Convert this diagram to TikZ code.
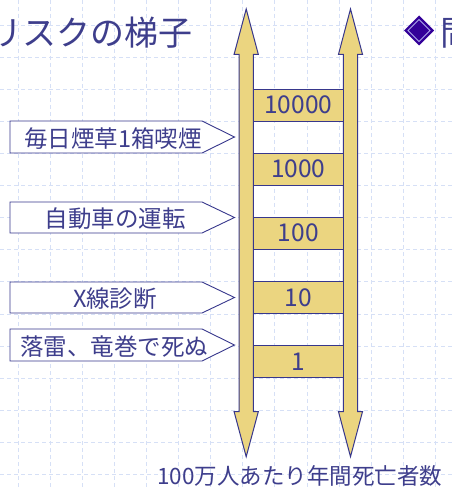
\documentclass[tikz,border=0pt]{standalone}
\usepackage{fontspec}
\setmainfont{Noto Sans CJK JP}
\definecolor{ink}{RGB}{62,62,140}
\definecolor{edge}{RGB}{55,55,140}
\definecolor{lfill}{RGB}{235,213,128}
\definecolor{gridc}{RGB}{214,224,246}
\definecolor{dia}{RGB}{51,0,153}
\definecolor{dialine}{RGB}{175,170,235}
\begin{document}
\begin{tikzpicture}[x=1pt,y=-1pt,
  gridline/.style={gridc, line width=0.8pt, dash pattern=on 4pt off 3pt},
  ladderpart/.style={fill=lfill, draw=edge, line width=1pt, line join=miter},
  rung/.style={ladderpart, minimum width=90pt, minimum height=32pt, inner sep=0pt, text=ink, font=\fontsize{24.5}{28}\selectfont},
  tagshape/.style={draw=edge, fill=white, line width=0.9pt},
  tagtext/.style={text=ink, inner sep=0pt, font=\fontsize{23.5}{27}\selectfont},
  bigtext/.style={text=ink, inner sep=0pt, font=\fontsize{34}{38}\selectfont}]
\useasboundingbox (0,0) rectangle (452,487);
\fill[white] (0,0) rectangle (452,487);
% background grid
\foreach \i in {0,...,13} \draw[gridline] ({18+32.1*\i},0) -- ({18+32.1*\i},487);
\foreach \i in {0,...,14} \draw[gridline] (0,{25+32.1*\i}) -- (452,{25+32.1*\i});
% title
\node[bigtext, anchor=base west] (title) at (-12,46) {リスクの梯子};
% diamond bullet and cut-off heading
\fill[dia] (419,15.5) -- (434,30.5) -- (419,45.5) -- (404,30.5) -- cycle;
\draw[dialine, line width=0.8pt] (419,19.5) -- (430,30.5) -- (419,41.5) -- (408,30.5) -- cycle;
\node[bigtext, anchor=base west] (head) at (440,46) {問};
% ladder rails (double arrows)
\draw[ladderpart] (246.2,9) -- (258.3,54.3) -- (253.3,54.3) -- (253.3,411.7) -- (258.3,411.7) -- (246.2,456.7)
  -- (234.1,411.7) -- (239.1,411.7) -- (239.1,54.3) -- (234.1,54.3) -- cycle;
\draw[ladderpart] (350.5,9) -- (362.5,54.3) -- (357.7,54.3) -- (357.7,411.7) -- (362.5,411.7) -- (350.5,456.7)
  -- (338.5,411.7) -- (343.3,411.7) -- (343.3,54.3) -- (338.5,54.3) -- cycle;
% rungs
\node[rung] (r10000) at (298.3,105) {10000};
\node[rung] (r1000) at (298.3,169) {1000};
\node[rung] (r100) at (298.3,233) {100};
\node[rung] (r10) at (298.3,297.3) {10};
\node[rung] (r1) at (298.3,361.3) {1};
% tags
\draw[tagshape] (10,121) -- (202,121) -- (234.5,137) -- (202,153) -- (10,153) -- cycle;
\node[tagtext] (t1) at (113,139) {毎日煙草1箱喫煙};
\draw[tagshape] (10,202) -- (202,202) -- (234.5,217.5) -- (202,233) -- (10,233) -- cycle;
\node[tagtext] (t2) at (115,219) {自動車の運転};
\draw[tagshape] (10,282) -- (202,282) -- (234.5,297.5) -- (202,313) -- (10,313) -- cycle;
\node[tagtext] (t3) at (115,299) {X線診断};
\draw[tagshape] (10,329) -- (202,329) -- (234.5,345) -- (202,361) -- (10,361) -- cycle;
\node[tagtext] (t4) at (114,347) {落雷、竜巻で死ぬ};
% axis caption
\node[text=ink, inner sep=0pt, anchor=base west, font=\fontsize{22.5}{26}\selectfont] (cap) at (157,484) {100万人あたり年間死亡者数};
\end{tikzpicture}
\end{document}
